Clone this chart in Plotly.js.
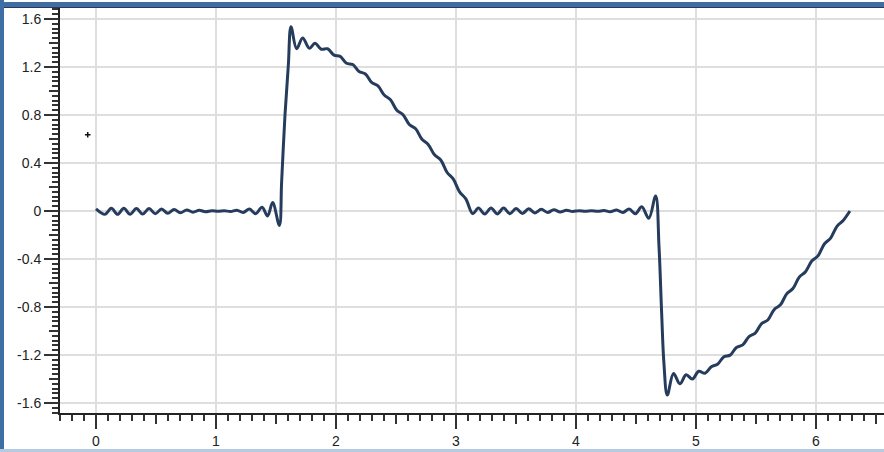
<!DOCTYPE html>
<html>
<head>
<meta charset="utf-8">
<script src="https://cdn.plot.ly/plotly-3.0.1.min.js"></script>
<style>
  html, body { margin: 0; padding: 0; background: #ffffff; }
  #wrap { position: relative; width: 884px; height: 452px; overflow: hidden; }
  #chart { position: absolute; left: 0; top: 0; width: 884px; height: 452px; }
  .edge { position: absolute; pointer-events: none; }
</style>
</head>
<body>
<div id="wrap">
  <div id="chart"></div>
  <div class="edge" style="left:0;top:2px;width:884px;height:5px;background:#3d6ea6;"></div>
  <div class="edge" style="left:0;top:7px;width:884px;height:1px;background:#2b3a4e;"></div>
  <div class="edge" style="left:0;top:0;width:4px;height:452px;background:#3d6ea6;"></div>
  <div class="edge" style="left:0;top:449px;width:884px;height:3px;background:#b4cbe3;"></div>
</div>
<script>
// Partial Fourier sum of a piecewise signal over [0, 2π]
const sumX = [
  0, 0.075, 0.128, 0.18, 0.232, 0.284, 0.337, 0.389, 0.442, 0.494,
  0.546, 0.598, 0.651, 0.703, 0.756, 0.808, 0.86, 0.912, 0.965, 1.017,
  1.07, 1.122, 1.174, 1.226, 1.279, 1.331, 1.384, 1.43, 1.472, 1.528,
  1.547, 1.575, 1.603, 1.625, 1.672, 1.722, 1.778, 1.825, 1.877, 1.93,
  1.983, 2.035, 2.088, 2.14, 2.192, 2.245, 2.297, 2.35, 2.402, 2.454,
  2.507, 2.559, 2.611, 2.664, 2.716, 2.768, 2.821, 2.873, 2.925, 2.978,
  3.03, 3.082, 3.14, 3.187, 3.24, 3.292, 3.344, 3.397, 3.449, 3.501,
  3.554, 3.606, 3.658, 3.711, 3.763, 3.815, 3.868, 3.92, 3.972, 4.025,
  4.077, 4.129, 4.182, 4.234, 4.286, 4.339, 4.391, 4.443, 4.496, 4.548,
  4.607, 4.664, 4.692, 4.714, 4.733, 4.761, 4.813, 4.866, 4.918, 4.97,
  5.023, 5.075, 5.128, 5.18, 5.233, 5.285, 5.337, 5.39, 5.442, 5.494,
  5.547, 5.599, 5.651, 5.704, 5.756, 5.808, 5.861, 5.913, 5.965, 6.018,
  6.07, 6.122, 6.175, 6.227, 6.283
];
const sumY = [
  0.017, -0.028, 0.022, -0.028, 0.022, -0.027, 0.021, -0.026, 0.02, -0.023,
  0.017, -0.019, 0.013, -0.015, 0.009, -0.01, 0.006, -0.006, 0.003, -0.003,
  0.002, -0.004, 0.007, -0.012, 0.016, -0.022, 0.032, -0.042, 0.07, -0.12,
  0.244, 0.8, 1.217, 1.536, 1.352, 1.442, 1.356, 1.398, 1.348, 1.352,
  1.299, 1.289, 1.231, 1.221, 1.163, 1.142, 1.071, 1.042, 0.966, 0.927,
  0.84, 0.802, 0.721, 0.685, 0.598, 0.555, 0.468, 0.425, 0.323, 0.265,
  0.16, 0.101, -0.022, 0.024, -0.025, 0.025, -0.024, 0.024, -0.023, 0.021,
  -0.02, 0.018, -0.016, 0.014, -0.012, 0.01, -0.008, 0.006, -0.004, 0.003,
  -0.002, 0.002, -0.003, 0.004, -0.006, 0.009, -0.012, 0.016, -0.022, 0.035,
  -0.06, 0.125, -0.297, -0.85, -1.27, -1.533, -1.355, -1.44, -1.365, -1.4,
  -1.335, -1.352, -1.298, -1.277, -1.214, -1.201, -1.137, -1.116, -1.046, -1.018,
  -0.938, -0.908, -0.822, -0.782, -0.691, -0.646, -0.551, -0.506, -0.417, -0.372,
  -0.275, -0.226, -0.128, -0.079, 0.0
];

// Stray cursor mark left of the origin
const markX = [-0.069];
const markY = [0.636];

// Axis tick labels
const xTickVals = [0, 1, 2, 3, 4, 5, 6];
const xTickText = ['0', '1', '2', '3', '4', '5', '6'];
const yTickVals = [1.6, 1.2, 0.8, 0.4, 0, -0.4, -0.8, -1.2, -1.6];
const yTickText = ['1.6', '1.2', '0.8', '0.4', '0', '-0.4', '-0.8', '-1.2', '-1.6'];

const xRange = [-0.3, 6.567];
const yRange = [-1.6833, 1.6917];

const tickInk = '#333333';
const font = { family: 'Liberation Sans, Arial, sans-serif', size: 14, color: '#222222' };

const traces = [
  {
    x: sumX, y: sumY,
    type: 'scatter', mode: 'lines',
    line: { color: '#263c5d', width: 3, shape: 'spline', smoothing: 1 },
    hoverinfo: 'skip', showlegend: false
  },
  {
    x: markX, y: markY,
    xaxis: 'x2', yaxis: 'y2',
    type: 'scatter', mode: 'markers',
    marker: { symbol: 'cross-thin-open', size: 4, color: '#111111', line: { width: 1.5, color: '#111111' } },
    hoverinfo: 'skip', showlegend: false
  }
];

const layout = {
  width: 884, height: 452,
  margin: { l: 60, r: 0, t: 8, b: 39, pad: 0 },
  paper_bgcolor: 'rgba(0,0,0,0)',
  plot_bgcolor: '#ffffff',
  font: font,
  showlegend: false,
  xaxis: {
    range: xRange, fixedrange: true,
    tickmode: 'array', tickvals: xTickVals, ticktext: xTickText,
    ticks: 'outside', ticklen: 14, tickwidth: 2, tickcolor: tickInk,
    showline: true, linewidth: 2, linecolor: '#222222',
    showgrid: true, gridcolor: '#dedede', gridwidth: 2,
    zeroline: false,
    tickfont: font,
    minor: { tickmode: 'linear', tick0: 0, dtick: 0.1, ticks: 'outside', ticklen: 6, tickwidth: 2, tickcolor: tickInk, showgrid: false }
  },
  yaxis: {
    range: yRange, fixedrange: true,
    tickmode: 'array', tickvals: yTickVals, ticktext: yTickText,
    ticks: 'outside', ticklen: 14, tickwidth: 2, tickcolor: tickInk,
    showline: true, linewidth: 2, linecolor: '#222222',
    showgrid: true, gridcolor: '#dedede', gridwidth: 2,
    zeroline: false,
    tickfont: font,
    minor: { tickmode: 'linear', tick0: 0, dtick: 0.04, ticks: 'outside', ticklen: 6, tickwidth: 2, tickcolor: tickInk, showgrid: false }
  },
  // Half-step ticks drawn a little longer than the minor ones
  xaxis2: {
    overlaying: 'x', anchor: 'y', side: 'bottom',
    range: xRange, fixedrange: true,
    tickmode: 'linear', tick0: 0, dtick: 0.5,
    ticks: 'outside', ticklen: 10, tickwidth: 2, tickcolor: tickInk,
    showticklabels: false, showgrid: false, zeroline: false, showline: false
  },
  yaxis2: {
    overlaying: 'y', anchor: 'x', side: 'left',
    range: yRange, fixedrange: true,
    tickmode: 'linear', tick0: 0, dtick: 0.2,
    ticks: 'outside', ticklen: 10, tickwidth: 2, tickcolor: tickInk,
    showticklabels: false, showgrid: false, zeroline: false, showline: false
  }
};

Plotly.newPlot('chart', traces, layout, { displayModeBar: false, staticPlot: true });
</script>
</body>
</html>
